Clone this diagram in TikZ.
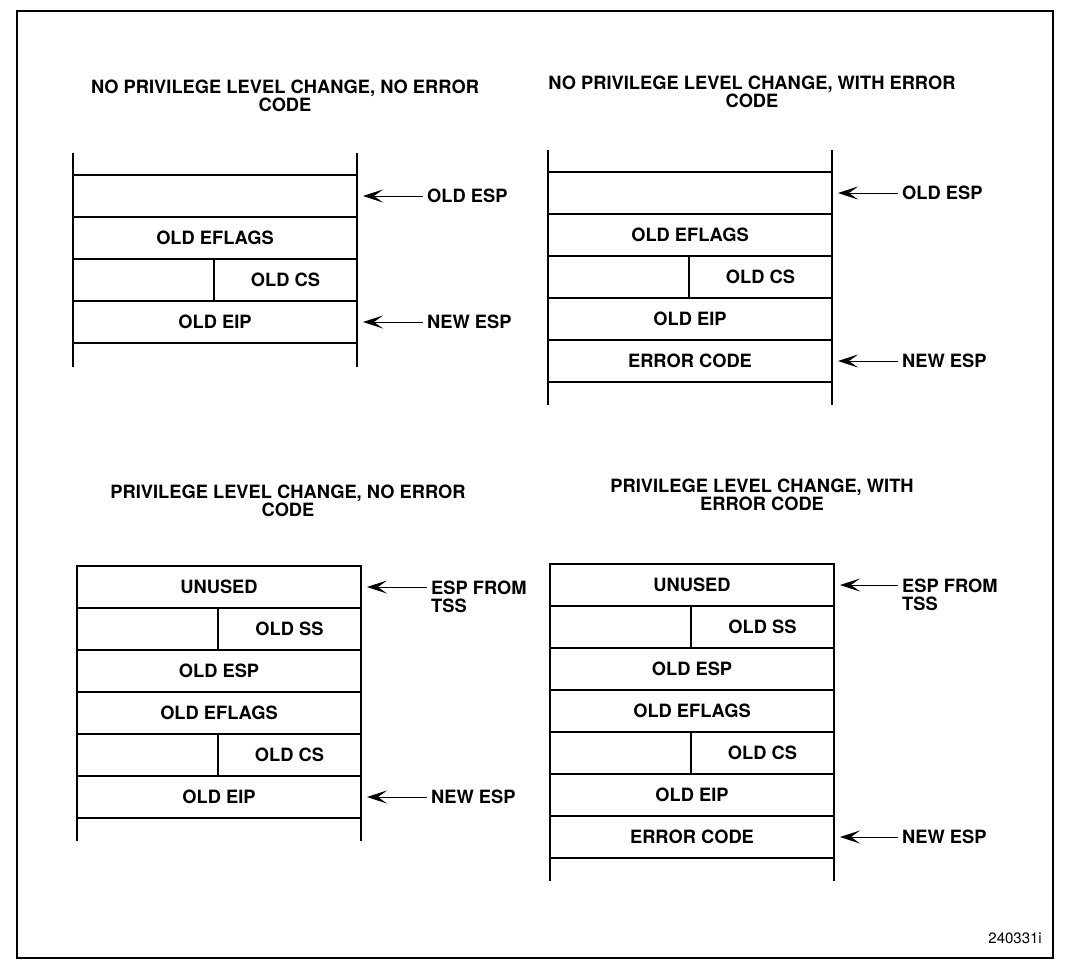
\documentclass[tikz,border=0pt]{standalone}
\usepackage{fontspec}
\setmainfont{TeX Gyre Heros}
\usetikzlibrary{arrows.meta,positioning}

\begin{document}
\begin{tikzpicture}[x=1pt, y=-1pt, line width=1.7pt,
  every node/.style={font=\fontsize{18.3}{18}\selectfont\bfseries},
  cell/.style={draw, minimum width=284pt, minimum height=42pt, inner sep=0pt, outer sep=0pt},
  lcell/.style={cell, minimum width=141pt},
  rcell/.style={cell, minimum width=143pt},
  title/.style={align=center},
  esp/.style={anchor=west},
  esptwo/.style={anchor=north west, align=left},
  ptr/.style={line width=0.9pt, -{Stealth[length=20pt, width=13pt, inset=9pt]}, shorten >=6pt}]
  \useasboundingbox (0,0) rectangle (1068,970);
  % Outer frame
  \draw[line width=1.9pt] (17,11) rectangle (1053,958);

  % No privilege level change, no error code
  \node[title] (t1) at (285,96) {NO PRIVILEGE LEVEL CHANGE, NO ERROR\\CODE};
  \node[cell, anchor=north west] (p1a) at (73,175) {};
  \node[cell, below=0pt of p1a] (p1b) {OLD EFLAGS};
  \node[lcell, below=0pt of p1b.south west, anchor=north west] (p1c) {};
  \node[rcell, right=0pt of p1c] (p1d) {OLD CS};
  \node[cell, below=0pt of p1c.south west, anchor=north west] (p1e) {OLD EIP};
  \draw (p1a.north west) -- ++(0,-22) (p1a.north east) -- ++(0,-22);
  \draw (p1e.south west) -- ++(0,24) (p1e.south east) -- ++(0,24);
  \node[esp, right=66pt of p1a] (l1a) {OLD ESP};
  \node[esp, right=66pt of p1e] (l1b) {NEW ESP};
  \draw[ptr] (l1a) -- (p1a.east);
  \draw[ptr] (l1b) -- (p1e.east);

  % No privilege level change, with error code
  \node[title] (t2) at (752,92) {NO PRIVILEGE LEVEL CHANGE, WITH ERROR\\CODE};
  \node[cell, anchor=north west] (p2a) at (548,172) {};
  \node[cell, below=0pt of p2a] (p2b) {OLD EFLAGS};
  \node[lcell, below=0pt of p2b.south west, anchor=north west] (p2c) {};
  \node[rcell, right=0pt of p2c] (p2d) {OLD CS};
  \node[cell, below=0pt of p2c.south west, anchor=north west] (p2e) {OLD EIP};
  \node[cell, below=0pt of p2e] (p2f) {ERROR CODE};
  \draw (p2a.north west) -- ++(0,-22) (p2a.north east) -- ++(0,-22);
  \draw (p2f.south west) -- ++(0,23) (p2f.south east) -- ++(0,23);
  \node[esp, right=66pt of p2a] (l2a) {OLD ESP};
  \node[esp, right=66pt of p2f] (l2b) {NEW ESP};
  \draw[ptr] (l2a) -- (p2a.east);
  \draw[ptr] (l2b) -- (p2f.east);

  % Privilege level change, no error code
  \node[title] (t3) at (288,501) {PRIVILEGE LEVEL CHANGE, NO ERROR\\CODE};
  \node[cell, anchor=north west] (p3a) at (77,566) {UNUSED};
  \node[lcell, below=0pt of p3a.south west, anchor=north west] (p3b) {};
  \node[rcell, right=0pt of p3b] (p3c) {OLD SS};
  \node[cell, below=0pt of p3b.south west, anchor=north west] (p3d) {OLD ESP};
  \node[cell, below=0pt of p3d] (p3e) {OLD EFLAGS};
  \node[lcell, below=0pt of p3e.south west, anchor=north west] (p3f) {};
  \node[rcell, right=0pt of p3f] (p3g) {OLD CS};
  \node[cell, below=0pt of p3f.south west, anchor=north west] (p3h) {OLD EIP};
  \draw (p3h.south west) -- ++(0,23) (p3h.south east) -- ++(0,23);
  \node[esptwo, below right=-10pt and 66pt of p3a.east] (l3a) {ESP FROM\\TSS};
  \node[esp, right=66pt of p3h] (l3b) {NEW ESP};
  \draw[ptr] (p3a.east -| l3a.west) -- (p3a.east);
  \draw[ptr] (l3b) -- (p3h.east);

  % Privilege level change, with error code
  \node[title] (t4) at (762,495) {PRIVILEGE LEVEL CHANGE, WITH\\ERROR CODE};
  \node[cell, anchor=north west] (p4a) at (550,564) {UNUSED};
  \node[lcell, below=0pt of p4a.south west, anchor=north west] (p4b) {};
  \node[rcell, right=0pt of p4b] (p4c) {OLD SS};
  \node[cell, below=0pt of p4b.south west, anchor=north west] (p4d) {OLD ESP};
  \node[cell, below=0pt of p4d] (p4e) {OLD EFLAGS};
  \node[lcell, below=0pt of p4e.south west, anchor=north west] (p4f) {};
  \node[rcell, right=0pt of p4f] (p4g) {OLD CS};
  \node[cell, below=0pt of p4f.south west, anchor=north west] (p4h) {OLD EIP};
  \node[cell, below=0pt of p4h] (p4i) {ERROR CODE};
  \draw (p4i.south west) -- ++(0,23) (p4i.south east) -- ++(0,23);
  \node[esptwo, below right=-10pt and 64pt of p4a.east] (l4a) {ESP FROM\\TSS};
  \node[esp, right=64pt of p4i] (l4b) {NEW ESP};
  \draw[ptr] (p4a.east -| l4a.west) -- (p4a.east);
  \draw[ptr] (l4b) -- (p4i.east);

  % Figure number
  \node[anchor=south east, font=\fontsize{15}{15}\selectfont] (fig) at (1046,948) {240331i};
\end{tikzpicture}
\end{document}
